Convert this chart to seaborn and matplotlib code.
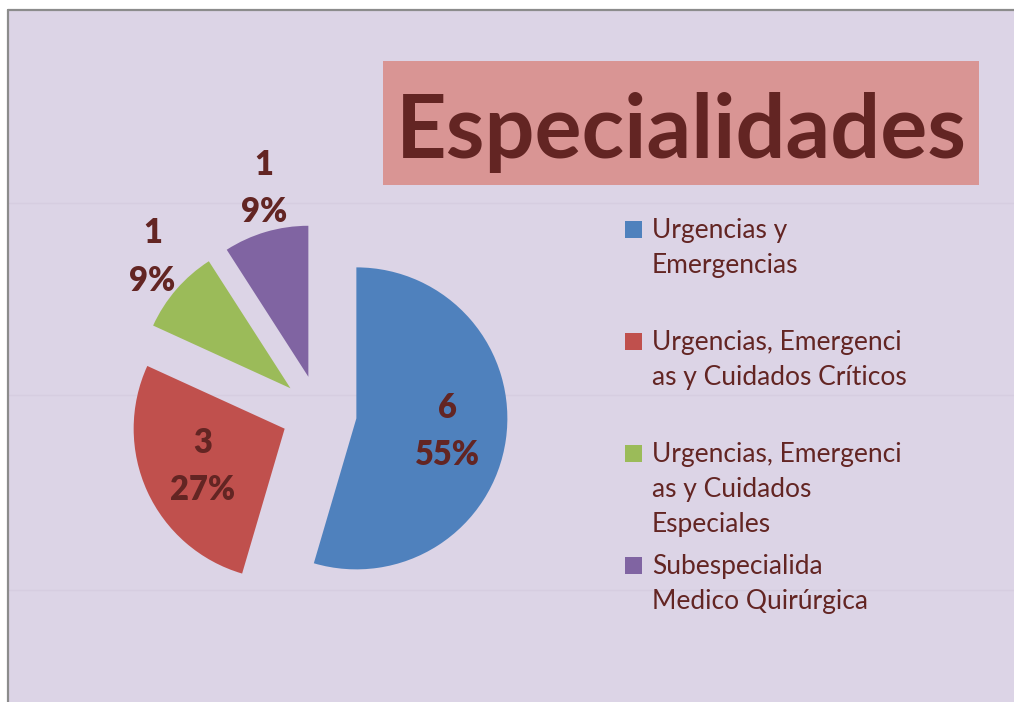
import matplotlib
matplotlib.use("Agg")
import matplotlib.pyplot as plt
import seaborn as sns
import numpy as np
from matplotlib.patches import Rectangle
from matplotlib.lines import Line2D

# ---------------- data ----------------
title = "Especialidades"
categories = [
    "Urgencias y Emergencias",
    "Urgencias, Emergencias y Cuidados Críticos",
    "Urgencias, Emergencias y Cuidados Especiales",
    "Subespecialida Medico Quirúrgica",
]
legend_labels = [
    "Urgencias y\nEmergencias",
    "Urgencias, Emergenci\nas y Cuidados Críticos",
    "Urgencias, Emergenci\nas y Cuidados\nEspeciales",
    "Subespecialida\nMedico Quirúrgica",
]
counts = [6, 3, 1, 1]

# ---------------- style ----------------
sns.set_theme(style="white")
plt.rcParams['font.family'] = ['Lato', 'DejaVu Sans']

colors = sns.color_palette(["#4F81BD", "#C0504D", "#9BBB59", "#8064A2"])
BG = "#DCD4E6"
TXT = "#632523"
W, H = 1014, 702

fig = plt.figure(figsize=(W / 100, H / 100), dpi=100)
fig.patch.set_facecolor("white")

def fx(px):
    return px / W

def fy(py):
    return 1 - py / H

# slide background and border
fig.add_artist(Rectangle((fx(8), 0), 1, fy(10), transform=fig.transFigure,
                         facecolor=BG, edgecolor="none", zorder=-3))
for yy in [203, 395, 590]:
    fig.add_artist(Line2D([fx(9), 1], [fy(yy), fy(yy)], transform=fig.transFigure,
                          color="#D6CDE0", lw=1.0, zorder=-2))
fig.add_artist(Line2D([fx(8), 1], [fy(10), fy(10)], transform=fig.transFigure,
                      color="#8C8C8C", lw=1.6, zorder=1))
fig.add_artist(Line2D([fx(8), fx(8)], [0, fy(10)], transform=fig.transFigure,
                      color="#8C8C8C", lw=1.6, zorder=1))

# ---------------- pie ----------------
cx, cy, R, half = 319, 413, 151, 280
ax = fig.add_axes([fx(cx - half), fy(cy + half), 2 * half / W, 2 * half / H])
ax.set_facecolor("none")
ax.set_zorder(0)
lim = half / R
wedges, _ = ax.pie(counts, colors=colors, startangle=90, counterclock=False,
                   explode=[0.25] * len(counts), radius=1,
                   wedgeprops=dict(linewidth=0))
ax.set_xlim(-lim, lim)
ax.set_ylim(-lim, lim)
ax.set_aspect("equal")
ax.axis("off")

total = sum(counts)
label_dist = [0.61, 0.60, 1.33, 1.30]
label_shift = [0, 0, 10, 8]   # small horizontal nudge in points for outside labels
for w, c, d, s in zip(wedges, counts, label_dist, label_shift):
    mid = np.deg2rad((w.theta1 + w.theta2) / 2)
    x0, y0 = w.center
    ax.annotate(f"{c}\n{100 * c / total:.0f}%",
                xy=(x0 + d * np.cos(mid), y0 + d * np.sin(mid)),
                xytext=(s, 0), textcoords="offset points",
                ha="center", va="center",
                fontsize=23.5, fontweight="heavy", color=TXT, linespacing=1.6,
                annotation_clip=False)

# ---------------- title ----------------
fig.add_artist(Rectangle((fx(383), fy(185)), fx(979) - fx(383), fy(61) - fy(185),
                         transform=fig.transFigure, facecolor="#D99594",
                         edgecolor="none", zorder=2))
t = fig.text(fx((383 + 979) / 2), fy(158), title, ha="center", va="baseline",
             fontsize=60, fontweight="bold", color=TXT, zorder=3)
fig.canvas.draw()
bb = t.get_window_extent()
t.set_fontsize(60 * 571 / bb.width)

# ---------------- legend ----------------
first_base = 238
step = 112
line_h = 35
for i, (lab, col) in enumerate(zip(legend_labels, colors)):
    base = first_base + i * step
    fig.add_artist(Rectangle((fx(625), fy(base)), 17 / W, 17 / H,
                             transform=fig.transFigure, facecolor=col,
                             edgecolor="none", zorder=3))
    for j, line in enumerate(lab.split("\n")):
        fig.text(fx(652), fy(base + j * line_h), line, ha="left", va="baseline",
                 fontsize=19, color=TXT, zorder=3)

fig.savefig("out.png", dpi=100, facecolor=fig.get_facecolor())
